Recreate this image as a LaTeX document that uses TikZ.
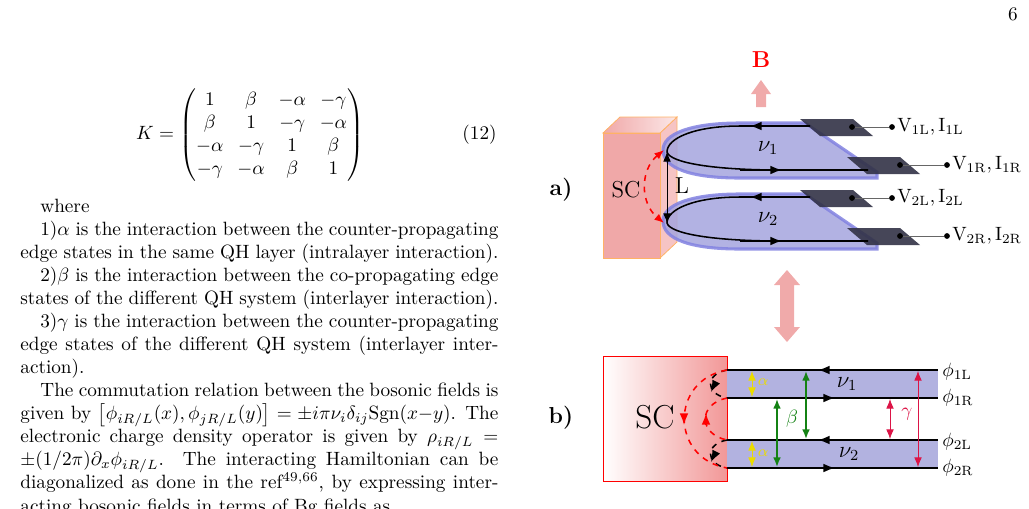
\documentclass[tikz,border=0pt]{standalone}
\usepackage{amsmath}
\usetikzlibrary{arrows.meta}
\definecolor{scred}{RGB}{240,168,168}
\definecolor{scside}{RGB}{246,196,196}
\definecolor{disc}{RGB}{165,165,222}
\definecolor{discedge}{RGB}{130,130,225}
\definecolor{contact}{RGB}{50,50,70}
\definecolor{strip}{RGB}{178,178,224}
\definecolor{fatarrow}{RGB}{240,170,170}
\definecolor{agreen}{RGB}{20,130,20}
\definecolor{acrim}{RGB}{220,20,70}
\definecolor{ayellow}{RGB}{235,220,0}
\begin{document}
\begin{tikzpicture}[x=0.52pt,y=-0.52pt,
  edge/.style={black,thick},
  mid/.style={-{Latex[length=6pt,width=4.5pt]}},
  dbl/.style={{Latex[length=5pt,width=4pt]}-{Latex[length=5pt,width=4pt]}},
  lab/.style={inner sep=1pt,font=\normalsize},
  fat/.style={fill=fatarrow,draw=none},
  dot/.style={circle,fill=black,inner sep=0pt,minimum size=3pt}]
\useasboundingbox (0,0) rectangle (1029,508);
\clip (0,0) rectangle (1029,508);
% page number
\node[lab] (pg) at (1013,14) {6};
% equation
\node (eq) at (250,135) {\setlength\arraycolsep{3.6pt}$K=\begin{pmatrix}1&\beta&-\alpha&-\gamma\\ \beta&1&-\gamma&-\alpha\\ -\alpha&-\gamma&1&\beta\\ -\gamma&-\alpha&\beta&1\end{pmatrix}$};
\node[anchor=east,inner sep=0pt] (eqn) at (497,135) {(12)};
% text
\node[anchor=base west,inner sep=0pt] (txt) at (20,212) {\begin{minipage}[t]{248.6pt}\setlength\parindent{10.4pt}\sloppy
where\par
1)$\alpha$ is the interaction between the counter-propagating\linebreak edge states in the same QH layer (intralayer interaction).\par
2)$\beta$ is the interaction between the co-propagating edge\linebreak states of the different QH system (interlayer interaction).\par
3)$\gamma$ is the interaction between the counter-propagating\linebreak edge states of the different QH system (interlayer inter-\linebreak action).\par
The commutation relation between the bosonic fields is\linebreak given by $\big[\phi_{iR/L}(x),\phi_{jR/L}(y)\big]=\pm i\pi\nu_i\delta_{ij}\mathrm{Sgn}(x{-}y)$. The\linebreak electronic charge density operator is given by $\rho_{iR/L}=$\linebreak $\pm(1/2\pi)\partial_x\phi_{iR/L}$. The interacting Hamiltonian can be\linebreak diagonalized as done in the ref$^{49,66}$, by expressing inter-\linebreak acting bosonic fields in terms of Bg fields as
\end{minipage}};
% ================= panel a
\node[font=\large\bfseries] (la) at (561,190) {a)};
% SC box
\fill[scside,draw=orange!60] (660,133) -- (677,117) -- (677,242) -- (660,258) -- cycle;
\shade[left color=scred,right color=scside!40,draw=orange!60] (603,133) -- (620,117) -- (677,117) -- (660,133) -- cycle;
\fill[scred,draw=orange!60] (603,133) rectangle (660,258);
\node[lab,font=\large] (sca) at (626,190) {SC};
% discs
\foreach \dy/\k in {0/1,71/2}{
 \begin{scope}[yshift=-\dy*0.52pt]
  \filldraw[disc,draw=discedge,line width=1.6pt,opacity=0.85] (805,123) -- (877,172) -- (877,178) -- (740,178)
     .. controls (690,178) and (663,168) .. (663,150) .. controls (663,134) and (690,123) .. (740,123) -- cycle;
  \fill[contact,opacity=0.9] (800,119) -- (853,119) -- (873,136) -- (820,136) -- cycle;
  \fill[contact,opacity=0.9] (847,157) -- (900,157) -- (920,174) -- (867,174) -- cycle;
  \draw[edge] (810,126) -- (740,126) .. controls (695,126) and (667,138) .. (667,152)
      .. controls (670,163) and (715,170) .. (780,170) -- (868,170);
  \draw[edge,mid] (810,126) -- (750,126);
  \draw[edge,mid] (740,170) -- (782,170);
  \node[lab,font=\large] at (768,148) {$\nu_{\k}$};
  \node[dot] (c\k a) at (852,127) {};
  \node[dot] (e\k a) at (892,127) {};
  \draw[gray!80!black] (c\k a) -- (e\k a);
  \node[dot] (c\k b) at (900,165) {};
  \node[dot] (e\k b) at (947,165) {};
  \draw[gray!80!black] (c\k b) -- (e\k b);
  \node[lab,anchor=west] at (895,127) {$\mathrm{V_{\k L}},\mathrm{I_{\k L}}$};
  \node[lab,anchor=west] at (950,165) {$\mathrm{V_{\k R}},\mathrm{I_{\k R}}$};
 \end{scope}}
\coordinate (t1) at (667,152);
\coordinate (t2) at (667,223);
\draw[dbl] (t1) -- (t2);
\node[lab,font=\large] (L) at (682,186) {L};
\draw[red,thick,dashed,dbl] (664,150) .. controls (640,170) and (640,203) .. (664,223);
% B arrow
\fill[fat] (756,107) -- (756,94) -- (751,94) -- (761,80) -- (771,94) -- (766,94) -- (766,107) -- cycle;
\node[red,font=\large\bfseries] (B) at (761,60) {B};
% double arrow
\fill[fat] (787,270) -- (800,285) -- (794,285) -- (794,327) -- (800,327) -- (787,342) -- (774,327) -- (780,327) -- (780,285) -- (774,285) -- cycle;
% ================= panel b
\node[font=\large\bfseries] (lb) at (561,418) {b)};
\shade[left color=white,right color=scred!90!red] (603,356) rectangle (727,481);
\draw[red] (603,356) rectangle (727,481);
\node[font=\LARGE] (scb) at (655,417) {SC};
\fill[strip] (727,369) rectangle (938,399);
\fill[strip] (727,439) rectangle (938,469);
\foreach \y in {370,398,440,468}{\draw[edge] (727,\y) -- (938,\y);}
\foreach \y in {370,440}{\draw[edge,mid] (835,\y) -- (818,\y);}
\foreach \y in {398,468}{\draw[edge,mid] (818,\y) -- (835,\y);}
\node[font=\large] at (847,384) {$\nu_1$};
\node[font=\large] at (849,454) {$\nu_2$};
\node[lab,anchor=west] at (940,372) {$\phi_{\mathrm{1L}}$};
\node[lab,anchor=west] at (940,398) {$\phi_{\mathrm{1R}}$};
\node[lab,anchor=west] at (940,442) {$\phi_{\mathrm{2L}}$};
\node[lab,anchor=west] at (940,468) {$\phi_{\mathrm{2R}}$};
\draw[ayellow,dbl] (752,371) -- (752,397);
\draw[ayellow,dbl] (752,441) -- (752,467);
\node[ayellow,font=\footnotesize] at (763,382) {$\alpha$};
\node[ayellow,font=\footnotesize] at (763,453) {$\alpha$};
\draw[agreen,thick,dbl] (777,399) -- (777,467);
\draw[agreen,thick,dbl] (806,371) -- (806,439);
\node[agreen] at (792,419) {$\beta$};
\draw[acrim,dbl] (890,399) -- (890,439);
\draw[acrim,dbl] (918,371) -- (918,467);
\node[acrim] at (907,414) {$\gamma$};
% dashed arcs
\draw[black,thick,dashed] (727,370) .. controls (705,374) and (705,394) .. (727,398);
\draw[black,thick,dashed] (727,440) .. controls (705,444) and (705,464) .. (727,468);
\draw[black,thick,-{Latex[length=6pt]}] (714,386) -- (711,392);
\draw[black,thick,-{Latex[length=6pt]}] (714,456) -- (711,462);
\draw[red,thick,dashed] (727,370) .. controls (670,380) and (670,458) .. (727,468);
\draw[red,thick,-{Latex[length=6pt]}] (684,415) -- (684,425);
\draw[red,thick,dashed] (727,398) .. controls (698,404) and (698,434) .. (727,440);
\draw[red,thick,-{Latex[length=6pt]}] (706,424) -- (706,413);
\end{tikzpicture}
\end{document}
